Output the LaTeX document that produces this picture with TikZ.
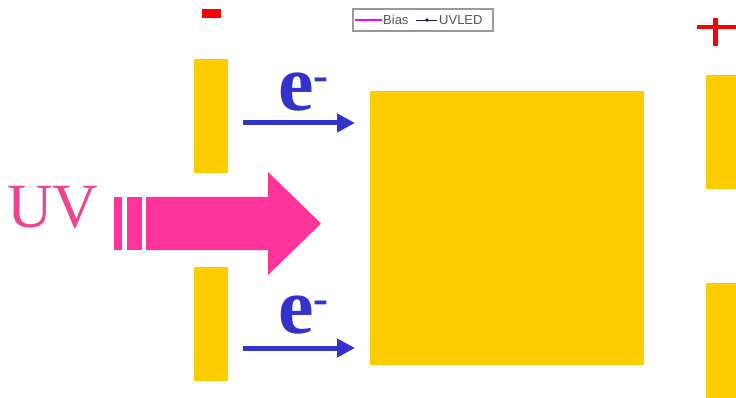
\documentclass[tikz,border=0pt]{standalone}
\usepackage{fontspec}
\setmainfont{Liberation Serif}
\newfontfamily\legendfont{Liberation Sans}
\usetikzlibrary{arrows.meta}
\definecolor{plateyellow}{HTML}{FFCC00}
\definecolor{uvpink}{HTML}{FF3399}
\definecolor{uvtext}{HTML}{EE4490}
\definecolor{eblue}{HTML}{3333CC}
\definecolor{signred}{HTML}{FF0000}
\definecolor{legendgrey}{HTML}{9A9A9A}
\definecolor{legendtext}{HTML}{555555}
\definecolor{biasmag}{HTML}{FF00FF}
\definecolor{ledblue}{HTML}{1A1A66}
\tikzset{
  plate/.style={fill=plateyellow, draw=none, inner sep=0pt, outer sep=0pt},
  earrow/.style={eblue, line width=5pt, -{Triangle[length=18pt,width=18pt]}},
  elabel/.style={text=eblue, inner sep=0pt, anchor=base west, font=\bfseries\fontsize{80}{80}\selectfont},
  signbar/.style={fill=signred, draw=none},
  legendlabel/.style={text=legendtext, inner sep=0pt, anchor=base west, font=\legendfont\fontsize{13}{13}\selectfont},
}
\begin{document}
\begin{tikzpicture}[x=1pt,y=-1pt]
\useasboundingbox (0,0) rectangle (736,398);

% electrode plates and the sample block
\node[plate, minimum width=34pt, minimum height=114pt] (ltop) at (211,116) {};
\node[plate, minimum width=34pt, minimum height=114pt] (lbot) at (211,324) {};
\node[plate, minimum width=274pt, minimum height=274pt] (block) at (507,228) {};
\node[plate, minimum width=34pt, minimum height=114pt] (rtop) at (723,132) {};
\node[plate, minimum width=34pt, minimum height=115pt] (rbot) at (723,340.5) {};

% polarity signs
\fill[signbar] (202,9) rectangle (221,18);
\fill[signbar] (697,25) rectangle (736,29.5);
\fill[signbar] (713,18) rectangle (718,46);

% legend
\node[draw=legendgrey, line width=1.2pt, minimum width=140pt, minimum height=22pt, inner sep=0pt] (legend) at (423,20) {};
\draw[biasmag, line width=1.5pt] (355,20) -- (382,20);
\node[legendlabel] (biaslbl) at (383,24.5) {Bias};
\draw[ledblue, line width=0.8pt] (416,20) -- (437,20);
\fill[ledblue] (427,20) circle (1.8pt);
\node[legendlabel] (ledlbl) at (439,24.5) {UVLED};

% incoming UV light
\node[text=uvtext, inner sep=0pt, anchor=base west, font=\fontsize{63}{63}\selectfont] (uvlbl) at (7,227) {UV};
\fill[uvpink] (114,197) rectangle (122,250);
\fill[uvpink] (127,197) rectangle (142,250);
\fill[uvpink] (146,197) -- (268,197) -- (268,172) -- (321,223.5) -- (268,275) -- (268,250) -- (146,250) -- cycle;

% emitted electrons
\coordinate (e1s) at (243,123);
\coordinate (e1e) at (355,123);
\coordinate (e2s) at (243,348);
\coordinate (e2e) at (355,348);
\draw[earrow] (e1s) -- (e1e);
\draw[earrow] (e2s) -- (e2e);
\node[elabel] (e1) at (278,111) {e\raisebox{20pt}{\fontsize{45}{45}\selectfont -}};
\node[elabel] (e2) at (278,333) {e\raisebox{20pt}{\fontsize{45}{45}\selectfont -}};
\end{tikzpicture}
\end{document}
